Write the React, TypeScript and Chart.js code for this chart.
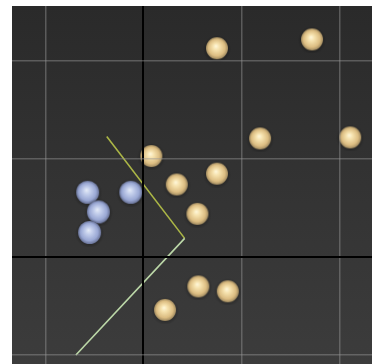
import React, { useEffect, useRef } from "react";
import { Chart, registerables } from "chart.js";

Chart.register(...registerables);

const goldX = [0.75, 1.72, 1.19, 2.11, 0.75, 0.08, 0.34, 0.55, 0.56, 0.86, 0.22];
const goldY = [2.13, 2.22, 1.21, 1.22, 0.85, 1.03, 0.74, 0.44, -0.3, -0.35, -0.54];
const blueX = [-0.57, -0.13, -0.46, -0.55];
const blueY = [0.66, 0.66, 0.46, 0.25];
const lineX = [-0.375, 0.42, -0.69];
const lineY = [1.23, 0.19, -1.0];

function makeSphere(r: number, stops: [number, string][]) {
  const pad = 3;
  const size = Math.ceil(r * 2 + pad * 2);
  const c = document.createElement("canvas");
  c.width = size;
  c.height = size;
  const ctx = c.getContext("2d")!;
  const cx = size / 2;
  const cy = size / 2;
  const halo = ctx.createRadialGradient(cx, cy + 1, r * 0.8, cx, cy + 1, r + pad);
  halo.addColorStop(0, "rgba(0,0,0,0.3)");
  halo.addColorStop(1, "rgba(0,0,0,0)");
  ctx.fillStyle = halo;
  ctx.beginPath();
  ctx.arc(cx, cy + 1, r + pad, 0, Math.PI * 2);
  ctx.fill();
  const g = ctx.createRadialGradient(cx - r * 0.1, cy - r * 0.2, 0, cx, cy, r);
  stops.forEach(([o, col]) => g.addColorStop(o, col));
  ctx.fillStyle = g;
  ctx.beginPath();
  ctx.arc(cx, cy, r, 0, Math.PI * 2);
  ctx.fill();
  return c;
}

export default function App() {
  const ref = useRef<HTMLCanvasElement>(null);
  useEffect(() => {
    const gold = makeSphere(11, [
      [0, "#fff8dc"],
      [0.3, "#f6e2ae"],
      [0.75, "#dcbd82"],
      [1, "#a08a60"],
    ]);
    const blue = makeSphere(11.5, [
      [0, "#e6ecf8"],
      [0.3, "#c4cfec"],
      [0.75, "#9aa8d4"],
      [1, "#6a7498"],
    ]);
    const bgPlugin = {
      id: "bg",
      beforeDraw(chart: any) {
        const { ctx, chartArea: a } = chart;
        const g = ctx.createLinearGradient(0, a.top, 0, a.bottom);
        g.addColorStop(0, "#2a2a2a");
        g.addColorStop(1, "#3c3c3c");
        ctx.save();
        ctx.fillStyle = g;
        ctx.fillRect(a.left, a.top, a.right - a.left, a.bottom - a.top);
        ctx.restore();
      },
    };
    const gridOpts = {
      z: 1,
      drawTicks: false,
      color: (c: any) => (c.tick && c.tick.value === 0 ? "#000000" : "rgba(150,150,150,0.45)"),
      lineWidth: (c: any) => (c.tick && c.tick.value === 0 ? 2 : 1.5),
    };
    const chart = new Chart(ref.current!, {
      type: "scatter",
      data: {
        datasets: [
          {
            type: "line",
            data: lineX.map((x, i) => ({ x, y: lineY[i] })),
            pointRadius: 0,
            borderWidth: 1.6,
            segment: {
              borderColor: (ctx: any) => (ctx.p0DataIndex === 0 ? "#abb646" : "#bcd8a8"),
            },
            borderColor: "#abb646",
            order: 2,
          } as any,
          {
            data: goldX.map((x, i) => ({ x, y: goldY[i] })),
            pointStyle: gold,
            order: 1,
          },
          {
            data: blueX.map((x, i) => ({ x, y: blueY[i] })),
            pointStyle: blue,
            order: 1,
          },
        ],
      },
      options: {
        animation: false,
        responsive: false,
        layout: { padding: { left: 12, top: 6, right: 0, bottom: 0 } },
        plugins: { legend: { display: false }, tooltip: { enabled: false } },
        scales: {
          x: {
            type: "linear",
            min: -1.342,
            max: 2.332,
            border: { display: false },
            ticks: { display: false, stepSize: 1, includeBounds: false },
            grid: gridOpts as any,
          },
          y: {
            type: "linear",
            min: -1.092,
            max: 2.561,
            border: { display: false },
            ticks: { display: false, stepSize: 1, includeBounds: false },
            grid: gridOpts as any,
          },
        },
      },
      plugins: [bgPlugin],
    });
    return () => chart.destroy();
  }, []);
  return (
    <div style={{ position: "fixed", left: 0, top: 0, width: 372, height: 364, overflow: "hidden", background: "#fff" }}>
      <canvas ref={ref} width={377} height={369} style={{ display: "block" }} />
    </div>
  );
}
